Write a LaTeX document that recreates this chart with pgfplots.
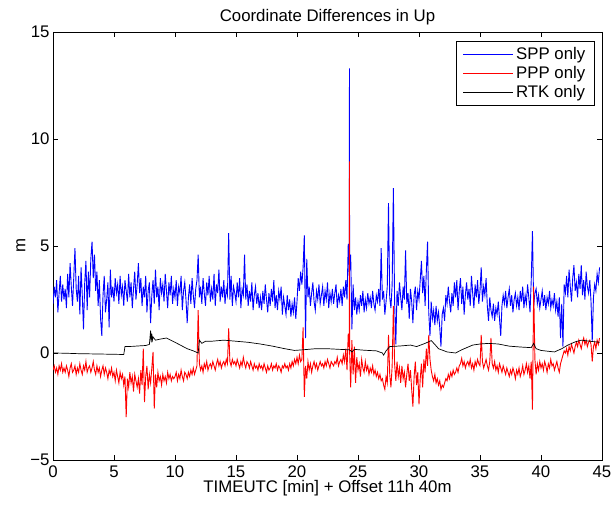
\documentclass[border=0pt]{standalone}
\usepackage{pgfplots}
\pgfplotsset{compat=1.18}
\usepackage{fontspec}
\setmainfont{Liberation Sans}
\newcommand{\fs}{\fontsize{16.8bp}{19bp}\selectfont}
\begin{document}
\begin{tikzpicture}
\path[use as bounding box] (-53bp,-47bp) rectangle (558bp,460bp);
\begin{axis}[
  scale only axis, width=549bp, height=428bp,
  at={(0,0)}, anchor=south west,
  xmin=0, xmax=45, ymin=-5, ymax=15,
  xtick={0,5,...,45}, ytick={-5,0,5,10,15},
  yticklabels={−5,0,5,10,15},
  tick align=inside, major tick length=5bp,
  /pgf/number format/assume math mode=true,
  tick label style={font=\fs},
  xticklabel style={yshift=-2bp},
  every axis label/.append style={font=\fs},
  xlabel={TIMEUTC [min] + Offset 11h 40m},
  ylabel={m},
  title={Coordinate Differences in Up},
  title style={font=\fs, yshift=-2bp},
  xlabel style={yshift=4bp},
  ylabel style={yshift=-2bp},
  axis line style={line width=0.5bp},
  every tick/.style={black, line width=0.5bp},
  legend style={font=\fs, at={(1,1)}, anchor=north east, xshift=-8bp, yshift=-9bp,
    draw=black, line width=0.5bp, inner xsep=6bp, inner ysep=4.5bp,
    nodes={inner ysep=1.5bp, inner xsep=2.5bp}, row sep=2.5bp},
  legend cell align=left,
  legend image code/.code={\draw[#1, line width=1bp] (0bp,0bp) -- (50bp,0bp);},
  every axis plot/.append style={line width=0.9bp},
]
\addplot[blue, no markers] coordinates {
(0.0,2.3)(0.1,3.1)(0.2,2.6)(0.3,3.4)(0.4,1.9)(0.5,2.8)(0.6,3.6)(0.7,2.4)(0.8,3.2)(0.9,2.5)
(1.0,3.0)(1.1,2.1)(1.2,3.7)(1.3,2.6)(1.4,4.2)(1.5,3.1)(1.6,2.2)(1.7,3.5)(1.8,4.9)(1.9,3.0)
(2.0,2.4)(2.1,3.6)(2.2,1.8)(2.3,4.0)(2.4,2.7)(2.5,1.1)(2.6,3.3)(2.7,4.3)(2.8,2.0)(2.9,3.8)
(3.0,2.6)(3.1,4.4)(3.2,5.2)(3.3,3.5)(3.4,4.6)(3.5,2.9)(3.6,3.8)(3.7,2.2)(3.8,3.4)(3.9,1.6)
(4.0,0.8)(4.1,2.7)(4.2,3.6)(4.3,1.9)(4.4,2.5)(4.5,3.3)(4.6,1.2)(4.7,3.9)(4.8,2.6)(4.9,3.1)
(5.0,2.4)(5.1,3.5)(5.2,2.8)(5.3,3.2)(5.4,2.3)(5.5,3.6)(5.6,2.7)(5.7,3.1)(5.8,2.2)(5.9,3.4)
(6.0,2.9)(6.1,2.4)(6.2,3.7)(6.3,2.6)(6.4,3.3)(6.5,2.1)(6.6,3.0)(6.7,3.8)(6.8,2.5)(6.9,3.2)
(7.0,4.2)(7.1,2.8)(7.2,3.5)(7.3,2.2)(7.4,3.1)(7.5,2.6)(7.6,3.6)(7.7,1.9)(7.8,2.9)(7.9,3.3)
(8.0,1.4)(8.1,2.7)(8.2,3.4)(8.3,2.3)(8.4,3.9)(8.5,2.6)(8.6,3.1)(8.7,2.0)(8.8,3.5)(8.9,2.8)
(9.0,3.2)(9.1,2.4)(9.2,3.7)(9.3,2.9)(9.4,2.1)(9.5,3.3)(9.6,2.7)(9.7,3.6)(9.8,2.3)(9.9,3.0)
(10.0,2.6)(10.1,3.4)(10.2,2.2)(10.3,3.1)(10.4,2.8)(10.5,3.6)(10.6,2.0)(10.7,2.9)(10.8,3.3)(10.9,2.5)
(11.0,1.4)(11.1,2.6)(11.2,3.2)(11.3,2.3)(11.4,3.5)(11.5,2.7)(11.6,2.1)(11.7,3.0)(11.8,3.4)(11.9,4.6)
(12.0,2.6)(12.1,3.1)(12.2,2.3)(12.3,3.5)(12.4,2.8)(12.5,2.2)(12.6,3.3)(12.7,2.7)(12.8,3.6)(12.9,2.4)
(13.0,3.0)(13.1,2.5)(13.2,3.7)(13.3,2.2)(13.4,3.2)(13.5,2.8)(13.6,3.9)(13.7,2.4)(13.8,3.1)(13.9,2.6)
(14.0,3.4)(14.1,2.3)(14.2,3.0)(14.3,2.7)(14.4,5.6)(14.5,2.5)(14.6,3.6)(14.7,2.2)(14.8,3.1)(14.9,2.8)
(15.0,2.4)(15.1,3.3)(15.2,2.6)(15.3,3.5)(15.4,2.1)(15.5,3.0)(15.6,2.7)(15.7,4.6)(15.8,2.5)(15.9,3.2)
(16.0,2.2)(16.1,2.9)(16.2,2.4)(16.3,3.3)(16.4,2.0)(16.5,2.7)(16.6,3.1)(16.7,2.3)(16.8,2.8)(16.9,2.1)
(17.0,2.6)(17.1,2.0)(17.2,2.9)(17.3,2.3)(17.4,3.2)(17.5,2.5)(17.6,1.9)(17.7,2.8)(17.8,2.2)(17.9,3.0)
(18.0,2.4)(18.1,3.4)(18.2,2.1)(18.3,2.7)(18.4,2.0)(18.5,2.9)(18.6,2.5)(18.7,3.1)(18.8,1.8)(18.9,2.6)
(19.0,2.2)(19.1,1.8)(19.2,2.7)(19.3,2.0)(19.4,2.5)(19.5,1.7)(19.6,2.3)(19.7,1.9)(19.8,2.6)(19.9,1.6)
(20.0,2.4)(20.1,3.5)(20.2,2.9)(20.3,3.8)(20.4,3.2)(20.5,4.0)(20.6,5.5)(20.7,0.7)(20.8,4.4)(20.9,2.6)
(21.0,3.1)(21.1,2.2)(21.2,2.8)(21.3,3.3)(21.4,2.4)(21.5,2.0)(21.6,2.9)(21.7,2.5)(21.8,3.2)(21.9,2.3)
(22.0,2.7)(22.1,3.1)(22.2,2.2)(22.3,2.9)(22.4,2.5)(22.5,3.3)(22.6,2.1)(22.7,2.8)(22.8,2.4)(22.9,3.0)
(23.0,2.3)(23.1,2.8)(23.2,3.2)(23.3,2.1)(23.4,2.7)(23.5,2.4)(23.6,3.0)(23.7,2.2)(23.8,3.1)(23.9,2.6)
(24.0,3.4)(24.1,2.5)(24.2,5.1)(24.29,3.6)(24.3,13.3)(24.31,3.9)(24.4,4.6)(24.5,1.1)(24.6,3.2)(24.7,2.0)(24.8,2.6)(24.9,1.8)
(25.0,2.4)(25.1,2.0)(25.2,2.7)(25.3,2.2)(25.4,2.9)(25.5,1.9)(25.6,2.5)(25.7,2.1)(25.8,2.8)(25.9,2.3)
(26.0,2.6)(26.1,2.1)(26.2,2.9)(26.3,2.3)(26.4,2.0)(26.5,2.7)(26.6,2.4)(26.7,3.0)(26.8,2.2)(26.9,4.9)
(27.0,2.5)(27.1,2.9)(27.2,1.8)(27.3,2.4)(27.4,3.1)(27.5,7.0)(27.6,2.6)(27.7,2.1)(27.8,3.2)(27.9,7.7)
(28.0,2.4)(28.1,0.4)(28.2,2.9)(28.3,2.2)(28.4,3.3)(28.5,2.6)(28.6,2.0)(28.7,3.1)(28.8,2.5)(28.9,4.8)
(29.0,2.3)(29.1,2.8)(29.2,1.6)(29.3,3.0)(29.4,2.4)(29.5,1.4)(29.6,2.7)(29.7,3.1)(29.8,2.0)(29.9,2.9)
(30.0,2.5)(30.1,3.4)(30.2,4.3)(30.3,2.8)(30.4,3.6)(30.5,2.2)(30.6,3.8)(30.7,5.2)(30.8,1.9)(30.9,0.8)
(31.0,2.4)(31.1,1.6)(31.2,2.0)(31.3,1.3)(31.4,2.2)(31.5,1.5)(31.6,1.9)(31.7,1.2)(31.8,0.3)(31.9,1.8)
(32.0,2.1)(32.1,1.5)(32.2,2.7)(32.3,2.3)(32.4,3.1)(32.5,2.4)(32.6,1.9)(32.7,2.8)(32.8,2.2)(32.9,3.3)
(33.0,2.6)(33.1,3.4)(33.2,2.0)(33.3,2.9)(33.4,3.5)(33.5,2.3)(33.6,3.1)(33.7,1.8)(33.8,2.7)(33.9,3.3)
(34.0,2.5)(34.1,3.0)(34.2,2.2)(34.3,3.6)(34.4,2.8)(34.5,2.1)(34.6,3.2)(34.7,2.6)(34.8,3.4)(34.9,2.3)
(35.0,2.9)(35.1,4.0)(35.2,2.4)(35.3,3.1)(35.4,2.7)(35.5,3.5)(35.6,2.2)(35.7,1.5)(35.8,2.6)(35.9,2.0)
(36.0,1.7)(36.1,2.3)(36.2,1.5)(36.3,2.1)(36.4,1.8)(36.5,2.4)(36.6,1.6)(36.7,0.8)(36.8,2.2)(36.9,2.7)
(37.0,2.3)(37.1,2.9)(37.2,2.1)(37.3,2.6)(37.4,3.0)(37.5,2.2)(37.6,2.7)(37.7,1.9)(37.8,2.5)(37.9,2.8)
(38.0,2.2)(38.1,2.6)(38.2,2.0)(38.3,2.9)(38.4,2.4)(38.5,3.1)(38.6,2.1)(38.7,2.7)(38.8,2.3)(38.9,3.2)
(39.0,2.6)(39.1,1.9)(39.2,3.4)(39.3,5.7)(39.4,2.2)(39.5,2.8)(39.6,3.0)(39.7,2.3)(39.8,2.7)(39.9,2.1)
(40.0,2.5)(40.1,2.9)(40.2,2.2)(40.3,2.7)(40.4,2.0)(40.5,2.6)(40.6,2.3)(40.7,2.9)(40.8,2.1)(40.9,2.5)
(41.0,2.2)(41.1,2.8)(41.2,2.0)(41.3,2.4)(41.4,1.7)(41.5,2.6)(41.6,0.7)(41.7,2.3)(41.8,0.3)(41.9,3.2)
(42.0,2.8)(42.1,3.6)(42.2,2.6)(42.3,3.9)(42.4,3.1)(42.5,2.4)(42.6,3.5)(42.7,4.1)(42.8,2.9)(42.9,3.3)
(43.0,2.6)(43.1,3.7)(43.2,3.0)(43.3,4.1)(43.4,2.7)(43.5,3.4)(43.6,2.5)(43.7,3.8)(43.8,3.1)(43.9,2.8)
(44.0,3.4)(44.1,2.4)(44.2,0.55)(44.3,2.6)(44.4,3.2)(44.5,2.9)(44.6,3.7)(44.7,3.3)(44.8,4.0)
};
\addlegendentry{SPP only}
\addplot[red, no markers] coordinates {
(0.0,-0.8)(0.1,-0.6)(0.2,-0.9)(0.3,-0.7)(0.4,-1.0)(0.5,-0.6)(0.6,-0.8)(0.7,-0.5)(0.8,-0.9)(0.9,-0.7)
(1.0,-0.9)(1.1,-0.6)(1.2,-0.8)(1.3,-1.1)(1.4,-0.7)(1.5,-0.5)(1.6,-0.9)(1.7,-0.8)(1.8,-0.6)(1.9,-1.0)
(2.0,-0.7)(2.1,-0.9)(2.2,-0.5)(2.3,-0.8)(2.4,-1.0)(2.5,-0.6)(2.6,-0.8)(2.7,-0.4)(2.8,-0.9)(2.9,-0.7)
(3.0,-0.6)(3.1,-0.9)(3.2,-0.7)(3.3,-0.4)(3.4,-0.8)(3.5,-1.0)(3.6,-0.6)(3.7,-0.9)(3.8,-0.7)(3.9,-1.1)
(4.0,-0.8)(4.1,-0.6)(4.2,-1.0)(4.3,-0.7)(4.4,-0.9)(4.5,-1.2)(4.6,-0.8)(4.7,-1.0)(4.8,-0.7)(4.9,-1.1)
(5.0,-0.9)(5.1,-1.3)(5.2,-0.8)(5.3,-1.1)(5.4,-1.4)(5.5,-0.9)(5.6,-1.2)(5.7,-1.0)(5.8,-1.5)(5.9,-1.1)
(6.0,-3.0)(6.1,-1.2)(6.2,-1.6)(6.3,-0.9)(6.4,-1.4)(6.5,-1.1)(6.6,-1.8)(6.7,-1.0)(6.8,-1.3)(6.9,-1.6)
(7.0,-1.2)(7.1,-1.9)(7.2,-0.8)(7.3,-1.5)(7.4,0.2)(7.5,-2.3)(7.6,-1.1)(7.7,-0.6)(7.8,-1.7)(7.9,-1.0)
(8.0,-1.4)(8.1,-0.7)(8.2,0.05)(8.3,-2.6)(8.4,-1.0)(8.5,-1.6)(8.6,-0.9)(8.7,-1.3)(8.8,-1.1)(8.9,-1.5)
(9.0,-1.0)(9.1,-1.3)(9.2,-1.1)(9.3,-1.4)(9.4,-0.9)(9.5,-1.2)(9.6,-1.0)(9.7,-1.3)(9.8,-1.1)(9.9,-1.2)
(10.0,-1.1)(10.1,-0.9)(10.2,-1.3)(10.3,-1.0)(10.4,-1.2)(10.5,-0.8)(10.6,-1.1)(10.7,-1.3)(10.8,-0.9)(10.9,-1.0)
(11.0,-1.2)(11.1,-0.9)(11.2,-1.1)(11.3,-0.8)(11.4,-1.0)(11.5,-0.7)(11.6,-1.0)(11.7,-0.8)(11.8,-0.6)(11.9,2.0)
(12.0,-0.5)(12.1,-0.8)(12.2,-0.6)(12.3,-0.9)(12.4,-0.5)(12.5,-0.7)(12.6,-0.4)(12.7,-0.8)(12.8,-0.6)(12.9,-0.5)
(13.0,-0.7)(13.1,-0.4)(13.2,-0.6)(13.3,-0.8)(13.4,-0.5)(13.5,-0.3)(13.6,-0.6)(13.7,-0.4)(13.8,-0.7)(13.9,-0.5)
(14.0,-0.4)(14.1,-0.6)(14.2,-0.3)(14.3,-0.5)(14.4,1.15)(14.5,-0.4)(14.6,-0.6)(14.7,-0.3)(14.8,-0.5)(14.9,-0.4)
(15.0,-0.6)(15.1,-0.3)(15.2,-0.5)(15.3,-0.7)(15.4,-0.4)(15.5,-0.6)(15.6,-0.2)(15.7,-0.5)(15.8,-0.7)(15.9,-0.4)
(16.0,-0.5)(16.1,-0.7)(16.2,-0.4)(16.3,-0.6)(16.4,-0.8)(16.5,-0.5)(16.6,-0.7)(16.7,-0.6)(16.8,-0.8)(16.9,-0.5)
(17.0,-0.7)(17.1,-0.6)(17.2,-0.8)(17.3,-0.5)(17.4,-0.7)(17.5,-0.9)(17.6,-0.6)(17.7,-0.8)(17.8,-0.7)(17.9,-0.5)
(18.0,-0.8)(18.1,-0.6)(18.2,-0.7)(18.3,-0.5)(18.4,-0.8)(18.5,-0.6)(18.6,-0.7)(18.7,-0.9)(18.8,-0.6)(18.9,-0.7)
(19.0,-0.5)(19.1,-0.7)(19.2,-0.6)(19.3,-0.8)(19.4,-0.5)(19.5,-0.7)(19.6,-0.4)(19.7,-0.6)(19.8,-0.3)(19.9,-0.5)
(20.0,-0.2)(20.1,-0.5)(20.2,-0.1)(20.3,-0.4)(20.4,-0.3)(20.5,1.2)(20.6,-2.05)(20.7,-0.6)(20.8,-1.2)(20.9,-0.4)
(21.0,-0.8)(21.1,-0.5)(21.2,-0.9)(21.3,-0.6)(21.4,-0.4)(21.5,-0.7)(21.6,-0.5)(21.7,-0.8)(21.8,-0.6)(21.9,-0.4)
(22.0,-0.6)(22.1,-0.5)(22.2,-0.7)(22.3,-0.4)(22.4,-0.6)(22.5,-0.3)(22.6,-0.5)(22.7,-0.7)(22.8,-0.4)(22.9,-0.5)
(23.0,-0.6)(23.1,-0.4)(23.2,-0.5)(23.3,-0.2)(23.4,-0.6)(23.5,-0.4)(23.6,-0.3)(23.7,-0.5)(23.8,-0.1)(23.9,-0.4)
(24.0,0.2)(24.1,-0.8)(24.2,0.9)(24.29,0.2)(24.3,8.95)(24.31,0.1)(24.4,-1.6)(24.5,0.6)(24.6,-1.0)(24.7,0.3)(24.8,-1.4)(24.9,-0.2)
(25.0,-0.8)(25.1,-0.5)(25.2,-1.1)(25.3,-0.3)(25.4,-0.7)(25.5,-0.9)(25.6,-0.4)(25.7,-0.8)(25.8,-0.6)(25.9,-1.0)
(26.0,-0.7)(26.1,-0.9)(26.2,-0.6)(26.3,-1.0)(26.4,-0.8)(26.5,-1.1)(26.6,-0.9)(26.7,-1.2)(26.8,-1.0)(26.9,-1.3)
(27.0,-1.2)(27.1,-1.5)(27.2,-1.7)(27.3,-1.1)(27.4,-1.4)(27.5,0.85)(27.6,-1.0)(27.7,-1.6)(27.8,-0.6)(27.9,2.2)
(28.0,-0.5)(28.1,-1.3)(28.2,-0.4)(28.3,-1.1)(28.4,-0.7)(28.5,-1.4)(28.6,-0.6)(28.7,-1.2)(28.8,-0.9)(28.9,-1.6)
(29.0,-1.0)(29.1,-0.5)(29.2,-1.3)(29.3,-0.8)(29.4,-1.7)(29.5,-2.5)(29.6,-1.1)(29.7,-0.4)(29.8,-1.5)(29.9,-0.9)
(30.0,-2.4)(30.1,-1.2)(30.2,-0.5)(30.3,-1.6)(30.4,-0.3)(30.5,-0.9)(30.6,0.2)(30.7,-0.6)(30.8,0.85)(30.9,-0.3)
(31.0,-0.8)(31.1,-1.1)(31.2,-1.3)(31.3,-1.0)(31.4,-1.4)(31.5,-1.2)(31.6,-1.5)(31.7,-1.3)(31.8,-1.7)(31.9,-1.5)
(32.0,-1.6)(32.1,-1.4)(32.2,-1.2)(32.3,-1.3)(32.4,-1.0)(32.5,-1.2)(32.6,-0.9)(32.7,-1.1)(32.8,-0.8)(32.9,-1.0)
(33.0,-0.9)(33.1,-0.7)(33.2,-0.9)(33.3,-0.6)(33.4,-0.5)(33.5,-0.25)(33.6,-0.6)(33.7,-0.4)(33.8,-0.7)(33.9,-0.5)
(34.0,-0.4)(34.1,-0.6)(34.2,-0.3)(34.3,-0.7)(34.4,-0.5)(34.5,-0.8)(34.6,-0.4)(34.7,-0.6)(34.8,-0.3)(34.9,-0.5)
(35.0,-0.6)(35.1,0.85)(35.2,-0.4)(35.3,-0.7)(35.4,-0.5)(35.5,-0.3)(35.6,-0.6)(35.7,-0.8)(35.8,-0.4)(35.9,0.7)
(36.0,-0.5)(36.1,-0.7)(36.2,-0.4)(36.3,-0.8)(36.4,-0.6)(36.5,-0.9)(36.6,-0.5)(36.7,-0.7)(36.8,-0.9)(36.9,-0.6)
(37.0,-0.8)(37.1,-1.0)(37.2,-0.7)(37.3,-0.9)(37.4,-1.1)(37.5,-0.8)(37.6,-1.0)(37.7,-0.7)(37.8,-0.9)(37.9,-1.2)
(38.0,-0.8)(38.1,-1.0)(38.2,-0.7)(38.3,-1.1)(38.4,-0.9)(38.5,-0.6)(38.6,-1.0)(38.7,-0.8)(38.8,-0.5)(38.9,-0.9)
(39.0,-0.6)(39.1,-1.2)(39.2,-0.4)(39.3,-2.65)(39.4,3.1)(39.5,-0.3)(39.6,-1.0)(39.7,-0.5)(39.8,-0.8)(39.9,-0.4)
(40.0,-0.7)(40.1,-0.5)(40.2,-0.8)(40.3,-0.4)(40.4,-0.6)(40.5,-0.9)(40.6,-0.5)(40.7,-0.7)(40.8,-0.3)(40.9,-0.6)
(41.0,-0.5)(41.1,-0.8)(41.2,-0.6)(41.3,-0.4)(41.4,-0.7)(41.5,-0.9)(41.6,-0.5)(41.7,-0.3)(41.8,-0.1)(41.9,0.1)
(42.0,0.0)(42.1,0.2)(42.2,-0.1)(42.3,0.3)(42.4,0.1)(42.5,0.4)(42.6,0.2)(42.7,0.0)(42.8,0.3)(42.9,0.5)
(43.0,0.3)(43.1,0.6)(43.2,0.4)(43.3,0.2)(43.4,0.5)(43.5,0.7)(43.6,0.4)(43.7,0.6)(43.8,0.3)(43.9,0.5)
(44.0,0.6)(44.1,0.4)(44.2,-0.4)(44.3,0.3)(44.4,0.5)(44.5,0.2)(44.6,0.6)(44.7,0.4)(44.8,0.7)
};
\addlegendentry{PPP only}
\addplot[black, no markers, line width=0.7bp] coordinates {
(0,0.0)(1,-0.01)(2,-0.03)(3,-0.04)(4,-0.05)(5,-0.06)(5.8,-0.07)(5.9,0.3)(6.5,0.31)(7,0.33)(7.6,0.35)(7.9,0.4)
(8.0,1.05)(8.05,0.5)(8.1,0.9)(8.15,0.6)(8.2,0.75)(8.4,0.6)(8.8,0.65)(9.3,0.7)(10,0.5)(10.5,0.35)(11,0.2)
(11.5,0.1)(11.9,0.0)(12.0,0.6)(12.2,0.45)(12.5,0.55)(13,0.55)(14,0.6)(15,0.55)(16,0.5)(17,0.42)(18,0.32)
(19,0.2)(19.8,0.12)(20.5,0.15)(21.5,0.2)(22.5,0.2)(23.5,0.17)(24.3,0.15)(24.5,0.05)(24.7,0.17)(25.5,0.13)
(26.5,0.1)(27,0.0)(27.1,-0.1)(27.3,0.1)(27.6,0.3)(28.5,0.33)(29.3,0.37)(29.8,0.3)(30.5,0.45)(31,0.58)
(31.3,0.4)(31.6,0.2)(32.3,0.05)(33,0.0)(33.5,0.15)(34.4,0.37)(35,0.42)(35.7,0.45)(36.5,0.42)(37.4,0.32)
(38.3,0.28)(39.2,0.25)(39.4,0.45)(39.6,0.2)(40,0.12)(40.6,0.08)(41.1,0.05)(41.7,0.2)(42.2,0.37)(42.8,0.52)
(43.3,0.6)(44,0.55)(44.8,0.5)
};
\addlegendentry{RTK only}
\end{axis}
\end{tikzpicture}
\end{document}
